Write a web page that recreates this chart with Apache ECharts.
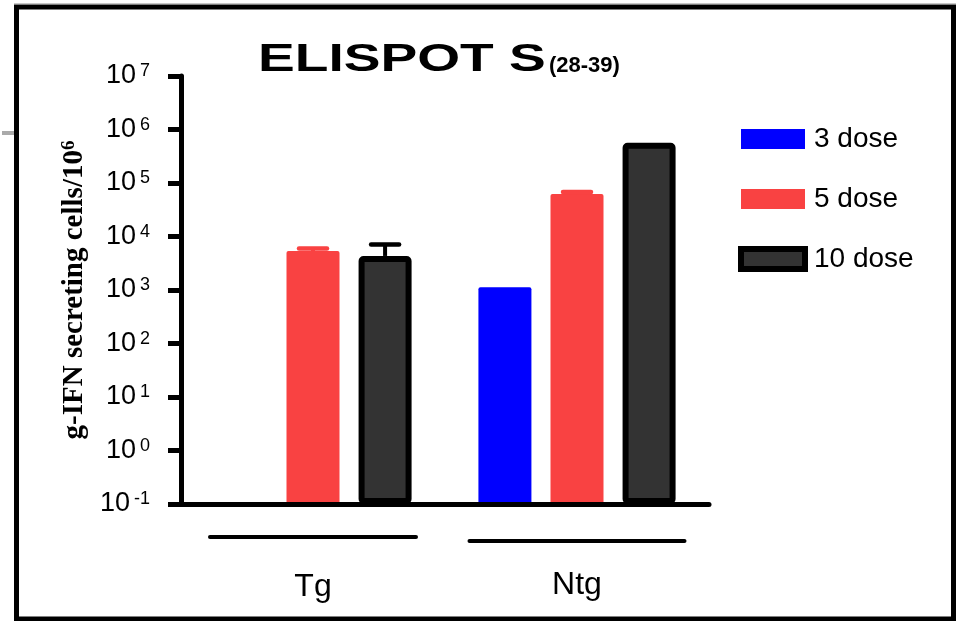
<!DOCTYPE html>
<html>
<head>
<meta charset="utf-8">
<script src="https://cdn.jsdelivr.net/npm/echarts@6/dist/echarts.min.js"></script>
<style>
  html, body { margin: 0; padding: 0; background: #fff; }
  #main { width: 956px; height: 621px; }
</style>
</head>
<body>
<div id="main"></div>
<script>
// data
var categories = ['Tg', 'Ntg'];
var seriesNames = ['3 dose', '5 dose', '10 dose'];
var dose3 = ['-', 1120];
var dose5 = [5360, 62300];
var dose10 = [4330, 566000];
// upper end of the error bars ('-' = none visible)
var err3 = ['-', '-'];
var err5 = [5970, 67900];
var err10 = [7080, '-'];

var BAR_W = 53;
var BAR_GAP = 0.36;
var CAP_W = 28;
var colors = ['#0000FF', '#F94242', '#333333'];
var errColors = ['#0000FF', '#F94242', '#000000'];

var means = [dose3, dose5, dose10];
var errs = [err3, err5, err10];
var errData = [];
errs.forEach(function (arr, s) {
  arr.forEach(function (v, c) {
    if (v !== '-') errData.push([c, v, s, means[s][c]]);
  });
});

var chart = echarts.init(document.getElementById('main'));

function renderErr(params, api) {
  var c = api.value(0), hi = api.value(1), s = api.value(2), mean = api.value(3);
  var off = (s - 1) * BAR_W * (1 + BAR_GAP);
  var pTop = api.coord([c, hi]);
  var pBase = api.coord([c, mean]);
  var x = pTop[0] + off;
  var col = errColors[s];
  return {
    type: 'group',
    children: [
      { type: 'line', shape: { x1: x, y1: pBase[1], x2: x, y2: pTop[1] }, style: { stroke: col, lineWidth: 4 } },
      { type: 'line', shape: { x1: x - CAP_W / 2, y1: pTop[1], x2: x + CAP_W / 2, y2: pTop[1] }, style: { stroke: col, lineWidth: 4.5, lineCap: 'round' } }
    ]
  };
}

var option = {
  animation: false,
  backgroundColor: '#fff',
  graphic: [
    { type: 'line', shape: { x1: 14, y1: 3.5, x2: 956, y2: 3.5 }, style: { stroke: '#c8c8c8', lineWidth: 1 } },
    { type: 'rect', shape: { x: 16.5, y: 7, width: 937, height: 612 }, style: { fill: 'none', stroke: '#000', lineWidth: 5 } },
    { type: 'rect', shape: { x: 2, y: 131, width: 12, height: 4 }, style: { fill: '#aaaaaa' } },
    {
      type: 'text', x: 258, y: 61, scaleX: 1.45,
      style: { text: 'ELISPOT S', fontSize: 38, fontWeight: 'bold', fontFamily: '"Liberation Sans", Arial', fill: '#000', verticalAlign: 'middle' }
    },
    {
      type: 'text', x: 549, y: 66,
      style: { text: '(28-39)', fontSize: 22, fontWeight: 'bold', fontFamily: '"Liberation Sans", Arial', fill: '#000', verticalAlign: 'middle' }
    }
  ],
  legend: {
    orient: 'vertical',
    left: 733,
    top: 120,
    itemWidth: 64,
    itemHeight: 20,
    itemGap: 32,
    icon: 'rect',
    data: [
      seriesNames[0],
      seriesNames[1],
      { name: seriesNames[2], itemStyle: { borderColor: '#000', borderWidth: 6 } }
    ],
    textStyle: { fontSize: 28, color: '#000', fontFamily: '"Liberation Sans", Arial', padding: [0, 0, 0, 4] }
  },
  grid: { left: 181, right: 247, top: 76, bottom: 117 },
  xAxis: {
    type: 'category',
    data: categories,
    z: 10,
    axisLine: { lineStyle: { color: '#000', width: 5, cap: 'round' } },
    axisTick: { show: false },
    axisLabel: {
      margin: 31,
      interval: 0,
      formatter: function (v, i) {
        return i === 0 ? '{l0|}\n{n0|' + v + '}' : '{l1|}\n{n1|' + v + '}';
      },
      rich: {
        l0: { width: 210, height: 4, backgroundColor: '#000', borderRadius: 2 },
        l1: { width: 219, height: 4, lineHeight: 12, backgroundColor: '#000', borderRadius: 2 },
        n0: { fontSize: 32, lineHeight: 96, color: '#000', fontFamily: '"Liberation Sans", Arial' },
        n1: { fontSize: 32, lineHeight: 76, color: '#000', fontFamily: '"Liberation Sans", Arial' }
      }
    }
  },
  yAxis: {
    type: 'log',
    logBase: 10,
    min: 0.1,
    max: 1e7,
    splitNumber: 8,
    startValue: 0.1,
    z: 10,
    name: '{a|g-IFN secreting cells/10}{b|6}',
    nameLocation: 'middle',
    nameGap: 90,
    nameTextStyle: {
      rich: {
        a: { fontSize: 29, fontWeight: 'bold', fontFamily: '"Liberation Serif", "Times New Roman"', color: '#000' },
        b: { fontSize: 19, fontWeight: 'bold', fontFamily: '"Liberation Serif", "Times New Roman"', color: '#000', verticalAlign: 'top' }
      }
    },
    axisLine: { show: true, lineStyle: { color: '#000', width: 5 } },
    axisTick: { show: true, length: 13, lineStyle: { color: '#000', width: 5 } },
    splitLine: { show: false },
    axisLabel: {
      margin: 31,
      formatter: function (v) {
        var e = Math.round(Math.log(v) / Math.LN10);
        return '{b|10}{e|' + e + '}';
      },
      rich: {
        b: { fontSize: 27, color: '#000', fontFamily: '"Liberation Sans", Arial' },
        e: { fontSize: 18, color: '#000', fontFamily: '"Liberation Sans", Arial', verticalAlign: 'top', padding: [0, 0, 0, 4] }
      }
    }
  },
  series: [
    {
      name: seriesNames[0], type: 'bar', data: dose3, barWidth: BAR_W, barGap: (BAR_GAP * 100) + '%',
      itemStyle: { color: colors[0], borderRadius: 2 }
    },
    {
      name: seriesNames[1], type: 'bar', data: dose5, barWidth: BAR_W, barGap: (BAR_GAP * 100) + '%',
      itemStyle: { color: colors[1], borderRadius: 2 }
    },
    {
      name: seriesNames[2], type: 'bar', data: dose10, barWidth: BAR_W, barGap: (BAR_GAP * 100) + '%',
      itemStyle: { color: colors[2], borderColor: '#000', borderWidth: 6, borderRadius: 2 }
    },
    {
      type: 'custom', z: 3, renderItem: renderErr, data: errData,
      encode: { x: 0, y: 1 }, silent: true
    }
  ]
};
chart.setOption(option);
</script>
</body>
</html>
